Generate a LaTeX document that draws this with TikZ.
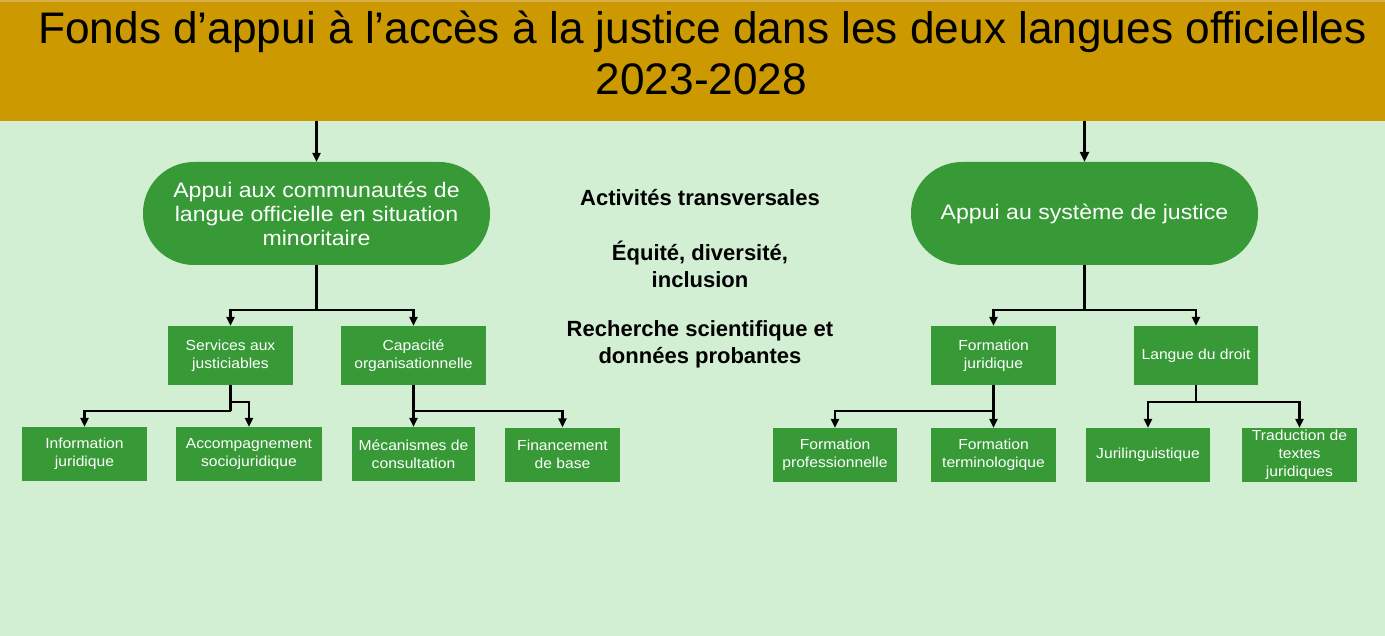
\documentclass[tikz,border=0pt]{standalone}
\usepackage{fontspec}
\setmainfont{Liberation Sans}
\newfontfamily\ovalfont[FakeStretch=1.1]{Liberation Sans}
\newfontfamily\boxfont[FakeStretch=1.08]{Liberation Sans}
\usetikzlibrary{arrows.meta}
\definecolor{hdrcol}{HTML}{CC9900}
\definecolor{hdrtop}{HTML}{D9B04A}
\definecolor{bgcol}{HTML}{D2EFD3}
\definecolor{grn}{HTML}{379A37}
\tikzset{
  boxnode/.style={fill=grn, text=white, inner sep=0pt, align=center,
    font=\boxfont\fontsize{14.5}{18}\selectfont},
  lvltwo/.style={boxnode, minimum height=59pt},
  lvlthree/.style={boxnode, minimum height=54pt},
  ovalnode/.style={fill=grn, text=white, rounded corners=51pt, minimum width=347pt,
    minimum height=103pt, inner sep=0pt, align=center,
    font=\ovalfont\fontsize{21}{24}\selectfont},
  midtext/.style={align=center, inner sep=0pt, font=\bfseries\fontsize{22}{27}\selectfont},
  conn/.style={line width=2.4pt, black},
  arr/.style={conn, -{Triangle[length=9pt,width=8pt]}},
  bigarr/.style={line width=2.8pt, black, -{Triangle[length=10pt,width=9pt]}}
}
\begin{document}
\begin{tikzpicture}[x=1pt,y=-1pt]
\fill[bgcol] (0,0) rectangle (1385,636);
\useasboundingbox (0,0) rectangle (1385,636);
% header
\node[fill=hdrcol, minimum width=1385pt, minimum height=121pt, inner sep=0pt, anchor=north west] (hdr) at (0,0) {};
\fill[hdrtop] (0,0) rectangle (1385,2);
\node[anchor=base, inner sep=0pt, font=\fontsize{44.2}{51}\selectfont] (t1) at (702.5,44) {Fonds d’appui à l’accès à la justice dans les deux langues officielles};
\node[anchor=base, inner sep=0pt, font=\fontsize{44.2}{51}\selectfont] (t2) at (701.5,95) {2023-2028};
% ovals
\node[ovalnode] (ovL) at (316.5,213.5) {Appui aux communautés de\\langue officielle en situation\\minoritaire};
\node[ovalnode] (ovR) at (1084.5,213.5) {Appui au système de justice};
% middle texts
\node[midtext] (m1) at (700,198) {Activités transversales};
\node[midtext] (m2) at (700,264) {Équité, diversité,\\inclusion};
\node[midtext] (m3) at (700,344) {Recherche scientifique et\\données probantes};
% level 2
\node[lvltwo, minimum width=125pt] (serv) at (230.5,355.5) {Services aux\\justiciables};
\node[lvltwo, minimum width=145pt] (cap) at (413.5,355.5) {Capacité\\organisationnelle};
\node[lvltwo, minimum width=125pt] (fj) at (993.5,355.5) {Formation\\juridique};
\node[lvltwo, minimum width=124pt] (ld) at (1196,355.5) {Langue du droit};
% level 3
\node[lvlthree, minimum width=125pt] (info) at (84.5,454) {Information\\juridique};
\node[lvlthree, minimum width=146pt] (acc) at (249,454) {Accompagnement\\sociojuridique};
\node[lvlthree, minimum width=123pt] (mec) at (413.5,454) {Mécanismes de\\consultation};
\node[lvlthree, minimum width=115pt] (fin) at (562.5,454.5) {Financement\\de base};
\node[lvlthree, minimum width=124pt] (fp) at (835,455) {Formation\\professionnelle};
\node[lvlthree, minimum width=125pt] (ft) at (993.5,455) {Formation\\terminologique};
\node[lvlthree, minimum width=124pt] (jur) at (1148,455) {Jurilinguistique};
\node[lvlthree, minimum width=115pt] (trad) at (1299.5,455) {Traduction de\\textes\\juridiques};
% junction coordinates
\coordinate (jL) at (316.5,310);
\coordinate (jR) at (1084.5,310);
\coordinate (jS) at (230.5,411);
\coordinate (jS2) at (230.5,402);
\coordinate (jC) at (413.5,411);
\coordinate (jF) at (993.5,411);
\coordinate (jD) at (1196,402);
% connectors
\draw[arr] (ovL.north |- hdr.south) -- (ovL.north);
\draw[bigarr] (ovR.north |- hdr.south) -- (ovR.north);
\draw[conn] (ovL.south) -- (jL);
\draw[arr] (jL) -| (serv.north);
\draw[arr] (jL) -| (cap.north);
\draw[conn] (ovR.south) -- (jR);
\draw[arr] (jR) -| (fj.north);
\draw[arr] (jR) -| (ld.north);
\draw[conn] (serv.south) -- (jS);
\draw[arr] (jS) -| (info.north);
\draw[arr] (jS2) -| (acc.north);
\draw[arr] (cap.south) -- (mec.north);
\draw[arr] (jC) -| (fin.north);
\draw[arr] (fj.south) -- (ft.north);
\draw[arr] (jF) -| (fp.north);
\draw[conn] (ld.south) -- (jD);
\draw[arr] (jD) -| (jur.north);
\draw[arr] (jD) -| (trad.north);
\end{tikzpicture}
\end{document}
